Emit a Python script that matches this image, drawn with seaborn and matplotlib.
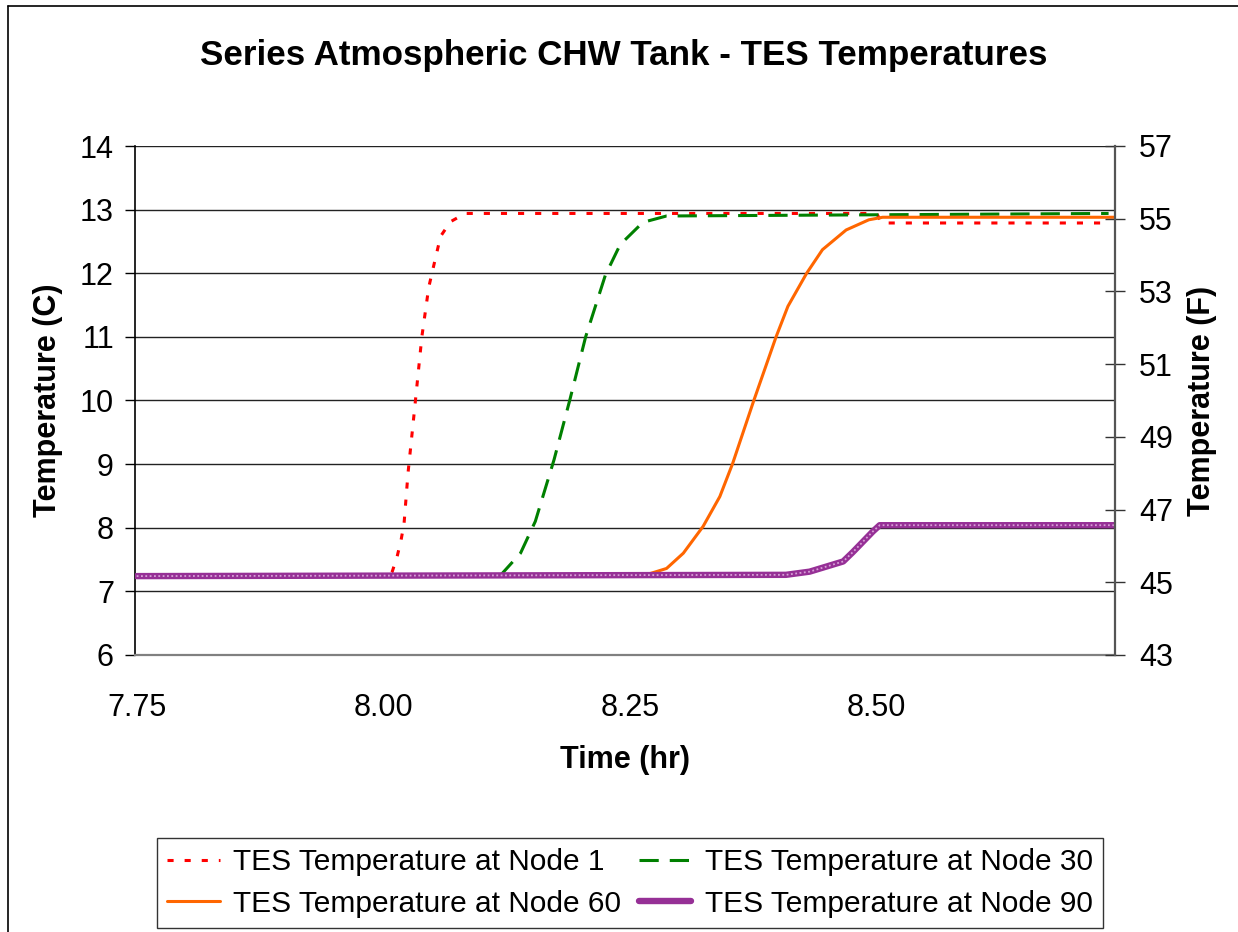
import matplotlib
matplotlib.use("Agg")
import matplotlib.pyplot as plt
import seaborn as sns
import numpy as np
from matplotlib.lines import Line2D
from matplotlib.ticker import FormatStrFormatter

# ---------------- data ----------------
node1_t = [7.75, 8.005, 8.009, 8.014, 8.018, 8.021, 8.025, 8.032, 8.039, 8.046, 8.050, 8.058, 8.068, 8.083, 8.500, 8.505, 8.735]
node1_T = [7.24, 7.24, 7.31, 7.55, 7.81, 8.07, 8.86, 9.92, 11.00, 11.78, 12.05, 12.58, 12.81, 12.94, 12.94, 12.79, 12.79]

node30_t = [7.75, 8.118, 8.125, 8.139, 8.154, 8.173, 8.189, 8.205, 8.225, 8.240, 8.263, 8.287, 8.735]
node30_T = [7.24, 7.24, 7.36, 7.60, 8.10, 9.07, 10.01, 11.00, 11.97, 12.45, 12.80, 12.90, 12.94]

node60_t = [7.75, 8.262, 8.287, 8.304, 8.324, 8.341, 8.354, 8.375, 8.398, 8.410, 8.429, 8.445, 8.469, 8.492, 8.506, 8.742]
node60_T = [7.24, 7.24, 7.36, 7.60, 8.02, 8.49, 9.01, 9.98, 11.00, 11.48, 12.00, 12.37, 12.68, 12.84, 12.88, 12.88]

node90_t = [7.75, 8.408, 8.432, 8.449, 8.466, 8.476, 8.486, 8.496, 8.503, 8.742]
node90_T = [7.24, 7.26, 7.31, 7.39, 7.47, 7.62, 7.78, 7.94, 8.04, 8.04]

series_labels = ["TES Temperature at Node 1", "TES Temperature at Node 30",
                 "TES Temperature at Node 60", "TES Temperature at Node 90"]

x_ticks = [7.75, 8.00, 8.25, 8.50]
yC_ticks = [6, 7, 8, 9, 10, 11, 12, 13, 14]
yF_ticks = [43, 45, 47, 49, 51, 53, 55, 57]

title = "Series Atmospheric CHW Tank - TES Temperatures"
xlabel = "Time (hr)"
ylabel_left = "Temperature (C)"
ylabel_right = "Temperature (F)"

# ---------------- style ----------------
sns.set_theme(style="white")
plt.rcParams["font.family"] = ["Liberation Sans", "DejaVu Sans"]

W, H = 1238, 932
fig = plt.figure(figsize=(W / 100, H / 100), dpi=100)
fig.patch.set_facecolor("white")

L, R, B, T = 135 / W, 1115 / W, 1 - 655 / H, 1 - 146 / H
ax = fig.add_axes([L, B, R - L, T - B])
ax.set_facecolor("white")

TICK_FS = 22
LAB_FS = 22

c_red = "#FF0000"
c_green = "#008000"
c_orange = "#FF6600"
c_purple = "#963096"

sns.lineplot(x=node1_t, y=node1_T, ax=ax, color=c_red, lw=2.2,
             linestyle=(0, (2.0, 3.6)), estimator=None, sort=False,
             label=series_labels[0], zorder=3)
sns.lineplot(x=node30_t, y=node30_T, ax=ax, color=c_green, lw=2.2,
             linestyle=(0, (6.3, 3.6)), estimator=None, sort=False,
             label=series_labels[1], zorder=3)
sns.lineplot(x=node60_t, y=node60_T, ax=ax, color=c_orange, lw=2.2,
             linestyle="-", estimator=None, sort=False,
             label=series_labels[2], zorder=3)
sns.lineplot(x=node90_t, y=node90_T, ax=ax, color=c_purple, lw=4.6,
             linestyle="-", estimator=None, sort=False,
             label=series_labels[3], zorder=4)
# light checker pattern over the purple line
sns.lineplot(x=node90_t, y=node90_T, ax=ax, color="#D7A0D7", lw=1.3,
             linestyle=(0, (1, 1.4)), estimator=None, sort=False,
             legend=False, zorder=5)

ax.set_xlim(7.7483, 8.7415)
ax.set_ylim(6, 14)
ax.set_xticks(x_ticks)
ax.xaxis.set_major_formatter(FormatStrFormatter("%.2f"))
ax.set_yticks(yC_ticks)

ax.grid(False)
ax.yaxis.grid(True, color="#222222", lw=1.0)
ax.set_axisbelow(True)

for s in ["top", "right"]:
    ax.spines[s].set_visible(False)
ax.spines["left"].set_color("black")
ax.spines["left"].set_linewidth(1.2)
ax.spines["bottom"].set_color("#808080")
ax.spines["bottom"].set_linewidth(1.6)

ax.tick_params(axis="y", which="both", left=True, direction="out", length=7.2,
               width=1.0, color="black", labelsize=TICK_FS, pad=8, labelcolor="black")
ax.tick_params(axis="x", which="both", bottom=False, length=0,
               labelsize=TICK_FS, pad=27, labelcolor="black")

ax.set_xlabel(xlabel, fontsize=LAB_FS, fontweight="bold", labelpad=16, color="black")
ax.set_ylabel(ylabel_left, fontsize=LAB_FS, fontweight="bold", labelpad=12, color="black")

# secondary (Fahrenheit) axis
ax2 = ax.twinx()
ax2.set_ylim(43, 57)
ax2.set_yticks(yF_ticks)
ax2.grid(False)
for s in ["top", "left", "bottom"]:
    ax2.spines[s].set_visible(False)
ax2.spines["right"].set_color("#555555")
ax2.spines["right"].set_linewidth(1.6)
ax2.tick_params(axis="y", right=True, direction="inout", length=14.4, width=1.0,
                color="#333333", labelsize=TICK_FS, pad=10, labelcolor="black")
ax2.set_ylabel(ylabel_right, fontsize=LAB_FS, fontweight="bold", labelpad=10,
               color="black")

# legend (row-wise order: Node 1, Node 30 / Node 60, Node 90)
handles, labels = ax.get_legend_handles_labels()
if ax.get_legend() is not None:
    ax.get_legend().remove()
handles = handles[:4]
labels = labels[:4]
order = [0, 2, 1, 3]
leg = fig.legend([handles[i] for i in order], [labels[i] for i in order],
                 ncol=2, loc="lower left",
                 bbox_to_anchor=(157 / W, 4 / H), fontsize=21.5,
                 frameon=True, fancybox=False, shadow=False,
                 handlelength=1.75, handletextpad=0.45, columnspacing=0.6,
                 borderpad=0.35, labelspacing=0.45, borderaxespad=0)
leg.get_frame().set_edgecolor("black")
leg.get_frame().set_linewidth(1.0)
for txt in leg.get_texts():
    txt.set_color("black")

# title
fig.text(624 / W, 1 - 55 / H, title, ha="center", va="center",
         fontsize=25.2, fontweight="bold", color="black")

# chart-area border (left and top edges visible)
fig.add_artist(Line2D([7.5 / W, 7.5 / W], [0, 1 - 5.5 / H], transform=fig.transFigure,
                      color="black", lw=1.2))
fig.add_artist(Line2D([7.5 / W, 1], [1 - 5.5 / H, 1 - 5.5 / H], transform=fig.transFigure,
                      color="black", lw=1.2))

fig.savefig("out.png", dpi=100, facecolor="white")
